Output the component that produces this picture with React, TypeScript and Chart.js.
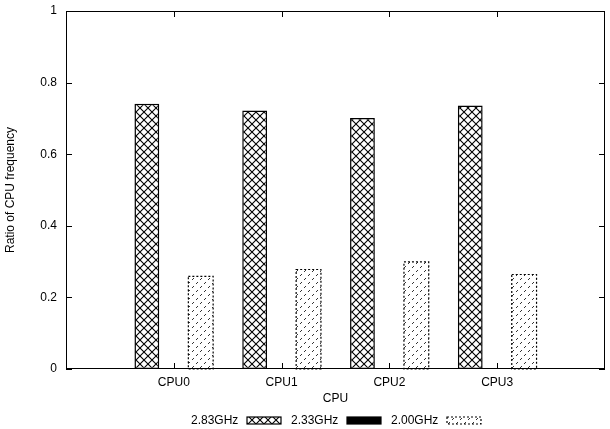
import { useEffect, useRef } from 'react';
import { Chart, registerables } from 'chart.js';

Chart.register(...registerables);

const categories = ['CPU0', 'CPU1', 'CPU2', 'CPU3'];
const seriesNames = ['2.83GHz', '2.33GHz', '2.00GHz'];
const values283 = [0.741, 0.722, 0.701, 0.736];
const values233 = [0, 0, 0, 0];
const values200 = [0.259, 0.278, 0.299, 0.264];
const yTickValues = [0, 0.2, 0.4, 0.6, 0.8, 1];
const yTickLabels = ['0', '0.2', '0.4', '0.6', '0.8', '1'];
const xTitle = 'CPU';
const yTitle = 'Ratio of CPU frequency';

const FONT = '"Liberation Sans", Arial, Helvetica, sans-serif';

function makeCrosshatch(): CanvasPattern | string {
  const c = document.createElement('canvas');
  c.width = 8;
  c.height = 8;
  const g = c.getContext('2d');
  if (!g) return '#fff';
  g.fillStyle = '#fff';
  g.fillRect(0, 0, 8, 8);
  g.strokeStyle = '#000';
  g.lineWidth = 1.1;
  g.beginPath();
  g.moveTo(0, 0);
  g.lineTo(8, 8);
  g.moveTo(8, 0);
  g.lineTo(0, 8);
  g.stroke();
  return g.createPattern(c, 'repeat') || '#fff';
}

function makeDotted(): CanvasPattern | string {
  const c = document.createElement('canvas');
  c.width = 8;
  c.height = 8;
  const g = c.getContext('2d');
  if (!g) return '#fff';
  g.fillStyle = '#fff';
  g.fillRect(0, 0, 8, 8);
  g.fillStyle = '#333';
  const pts = [[0, 7], [1, 6], [4, 3], [5, 2]];
  pts.forEach(([x, y]) => g.fillRect(x, y, 1, 1));
  return g.createPattern(c, 'repeat') || '#fff';
}

export default function App() {
  const ref = useRef<HTMLCanvasElement | null>(null);

  useEffect(() => {
    document.body.style.margin = '0';
    const canvas = ref.current;
    if (!canvas) return;
    const cross = makeCrosshatch();
    const dotted = makeDotted();

    const gnuFrame = {
      id: 'gnuFrame',
      afterDatasetsDraw(chart: any) {
        const { ctx, chartArea: a, scales } = chart;
        ctx.save();
        const meta = chart.getDatasetMeta(2);
        ctx.strokeStyle = '#000';
        ctx.lineWidth = 1.2;
        ctx.setLineDash([2, 2]);
        meta.data.forEach((el: any) => {
          const p = el.getProps(['x', 'y', 'base', 'width'], true);
          const top = Math.min(p.y, p.base);
          const h = Math.abs(p.base - p.y);
          ctx.strokeRect(p.x - p.width / 2, top, p.width, h);
        });
        ctx.setLineDash([]);
        ctx.lineWidth = 1;
        ctx.strokeStyle = '#000';
        ctx.strokeRect(a.left + 0.5, a.top + 0.5, a.right - a.left - 1, a.bottom - a.top - 1);
        const tl = 6;
        ctx.beginPath();
        yTickValues.forEach((v) => {
          const py = Math.round(scales.y.getPixelForValue(v)) + 0.5;
          ctx.moveTo(a.left, py);
          ctx.lineTo(a.left + tl, py);
          ctx.moveTo(a.right - tl, py);
          ctx.lineTo(a.right, py);
        });
        categories.forEach((_, i) => {
          const px = Math.round(scales.x.getPixelForValue(i)) + 0.5;
          ctx.moveTo(px, a.bottom);
          ctx.lineTo(px, a.bottom - tl);
          ctx.moveTo(px, a.top);
          ctx.lineTo(px, a.top + tl);
        });
        ctx.stroke();
        ctx.restore();
      },
      afterDraw(chart: any) {
        const { ctx, chartArea: a } = chart;
        ctx.save();
        ctx.font = '12px ' + FONT;
        ctx.fillStyle = '#000';
        ctx.textBaseline = 'middle';
        ctx.textAlign = 'left';
        const step = 100;
        const boxOff = 56;
        const boxW = 34;
        const boxH = 7;
        const total = step * (seriesNames.length - 1) + boxOff + boxW;
        const start = Math.round((a.left + a.right) / 2 - total / 2);
        const cy = 421;
        const fills: any[] = [cross, '#000', dotted];
        seriesNames.forEach((name, i) => {
          const x = start + i * step;
          ctx.fillText(name, x, cy);
          const bx = x + boxOff;
          const by = cy - boxH / 2 - 0.5;
          ctx.fillStyle = fills[i];
          ctx.fillRect(bx, by, boxW, boxH);
          ctx.strokeStyle = '#000';
          ctx.lineWidth = 1.2;
          ctx.setLineDash(i === 2 ? [2, 2] : []);
          ctx.strokeRect(bx, by, boxW, boxH);
          ctx.setLineDash([]);
          ctx.fillStyle = '#000';
        });
        ctx.restore();
      },
    };

    Chart.defaults.font.family = FONT;
    Chart.defaults.font.size = 12;
    Chart.defaults.color = '#000';

    const chart = new Chart(canvas, {
      type: 'bar',
      data: {
        datasets: [
          {
            label: seriesNames[0],
            data: values283.map((v, i) => ({ x: i, y: v })),
            backgroundColor: cross as any,
            borderColor: '#000',
            borderWidth: 1.5,
            borderSkipped: false,
          },
          {
            label: seriesNames[1],
            data: values233.map((v, i) => ({ x: i, y: v })),
            backgroundColor: '#000',
            borderWidth: 0,
          },
          {
            label: seriesNames[2],
            data: values200.map((v, i) => ({ x: i, y: v })),
            backgroundColor: dotted as any,
            borderWidth: 0,
          },
        ],
      },
      options: {
        responsive: false,
        animation: false,
        layout: { padding: { top: 11, right: 5, bottom: 22, left: 0 } },
        categoryPercentage: 0.75,
        barPercentage: 0.92,
        plugins: {
          legend: { display: false },
          tooltip: { enabled: false },
        },
        scales: {
          x: {
            type: 'linear',
            min: -1,
            max: 4,
            offset: false,
            grid: { display: false, drawTicks: false },
            border: { display: false },
            ticks: {
              stepSize: 1,
              padding: 6,
              autoSkip: false,
              maxRotation: 0,
              callback: (v: any) => categories[Number(v)] ?? '',
            },
            title: {
              display: true,
              text: xTitle,
              padding: { top: 0, bottom: 1 },
              font: { size: 12 },
            },
            afterFit: (s: any) => {
              s.height = 38;
              s.paddingLeft = 0;
              s.paddingRight = 0;
            },
          },
          y: {
            type: 'linear',
            min: 0,
            max: 1,
            grid: { display: false, drawTicks: false },
            border: { display: false },
            afterBuildTicks: (s: any) => {
              s.ticks = yTickValues.map((v) => ({ value: v }));
            },
            ticks: {
              padding: 9,
              callback: (v: any) => {
                const i = yTickValues.findIndex((t) => Math.abs(t - Number(v)) < 1e-9);
                return i >= 0 ? yTickLabels[i] : '';
              },
            },
            title: {
              display: true,
              text: yTitle,
              padding: { top: 3, bottom: 0 },
              font: { size: 12 },
            },
            afterFit: (s: any) => {
              s.width = 66;
              s.paddingTop = 0;
              s.paddingBottom = 0;
            },
          },
        },
      } as any,
      plugins: [gnuFrame],
    });
    return () => chart.destroy();
  }, []);

  return (
    <div style={{ position: 'absolute', left: 0, top: 0, width: 610, height: 429 }}>
      <canvas ref={ref} width={610} height={429} />
    </div>
  );
}
